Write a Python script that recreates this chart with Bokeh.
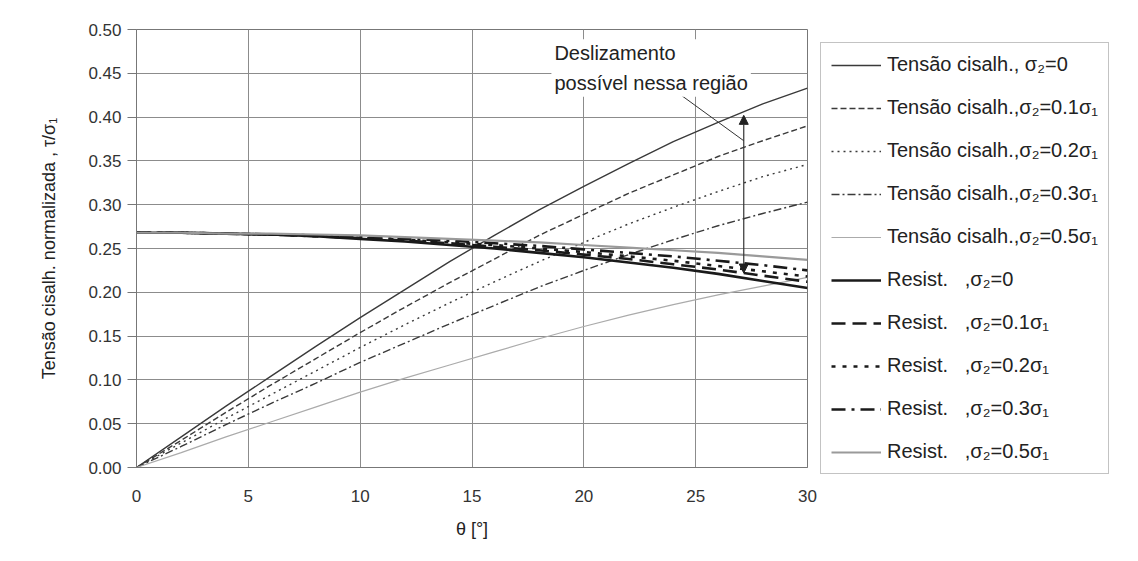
from bokeh.plotting import figure
from bokeh.models import Legend, LegendItem, Label, Arrow, NormalHead, Range1d, FixedTicker, NumeralTickFormatter
from bokeh.embed import file_html
from bokeh.resources import INLINE

# theta in degrees
theta = [0, 2, 4, 6, 8, 10, 12, 14, 16, 18, 20, 22, 24, 26, 28, 30]

# normalized shear stress tau/sigma1
shear_0 = [0, 0.035, 0.070, 0.104, 0.138, 0.171, 0.203, 0.235, 0.265, 0.294, 0.321, 0.347, 0.372, 0.394, 0.415, 0.433]
shear_01 = [0, 0.031, 0.063, 0.094, 0.124, 0.154, 0.183, 0.211, 0.238, 0.265, 0.289, 0.313, 0.334, 0.355, 0.373, 0.390]
shear_02 = [0, 0.028, 0.056, 0.083, 0.110, 0.137, 0.163, 0.188, 0.212, 0.235, 0.257, 0.278, 0.297, 0.315, 0.332, 0.346]
shear_03 = [0, 0.024, 0.049, 0.073, 0.096, 0.120, 0.142, 0.164, 0.185, 0.206, 0.225, 0.243, 0.260, 0.276, 0.290, 0.303]
shear_05 = [0, 0.017, 0.035, 0.052, 0.069, 0.086, 0.102, 0.117, 0.132, 0.147, 0.161, 0.174, 0.186, 0.197, 0.207, 0.217]

# normalized resistance
res_0 = [0.268, 0.268, 0.267, 0.266, 0.264, 0.261, 0.258, 0.254, 0.250, 0.245, 0.240, 0.234, 0.228, 0.221, 0.213, 0.205]
res_01 = [0.268, 0.268, 0.267, 0.266, 0.264, 0.262, 0.259, 0.256, 0.252, 0.248, 0.243, 0.238, 0.232, 0.226, 0.219, 0.212]
res_02 = [0.268, 0.268, 0.267, 0.266, 0.264, 0.262, 0.260, 0.257, 0.254, 0.250, 0.246, 0.241, 0.236, 0.230, 0.224, 0.218]
res_03 = [0.268, 0.268, 0.267, 0.266, 0.265, 0.263, 0.261, 0.259, 0.256, 0.253, 0.249, 0.245, 0.241, 0.236, 0.231, 0.225]
res_05 = [0.268, 0.268, 0.267, 0.267, 0.266, 0.265, 0.263, 0.261, 0.259, 0.257, 0.254, 0.251, 0.248, 0.245, 0.241, 0.237]

labels = [
    "Tensão cisalh., σ₂=0",
    "Tensão cisalh.,σ₂=0.1σ₁",
    "Tensão cisalh.,σ₂=0.2σ₁",
    "Tensão cisalh.,σ₂=0.3σ₁",
    "Tensão cisalh.,σ₂=0.5σ₁",
    "Resist.   ,σ₂=0",
    "Resist.   ,σ₂=0.1σ₁",
    "Resist.   ,σ₂=0.2σ₁",
    "Resist.   ,σ₂=0.3σ₁",
    "Resist.   ,σ₂=0.5σ₁",
]

x_ticks = [0, 5, 10, 15, 20, 25, 30]
y_ticks = [0.0, 0.05, 0.10, 0.15, 0.20, 0.25, 0.30, 0.35, 0.40, 0.45, 0.50]

annot_text = "Deslizamento\npossível nessa região"
annot_pos = (18.55, 0.489)
arrow_x = 27.15
arrow_y = (0.222, 0.402)
leader_x = (24.35, 27.15)
leader_y = (0.425, 0.373)

FONT = "Liberation Sans"

p = figure(frame_width=671, frame_height=438, output_backend="svg", toolbar_location=None,
           x_range=Range1d(0, 30), y_range=Range1d(0, 0.5),
           min_border_left=136, min_border_top=29, min_border_bottom=10, min_border_right=4,
           background_fill_color="white", border_fill_color="white")
p.outline_line_color = "#777777"
p.outline_line_width = 1

for ax in (p.xaxis, p.yaxis):
    ax.axis_line_color = "#777777"
    ax.major_tick_line_color = "#777777"
    ax.minor_tick_line_color = None
    ax.major_label_text_font = FONT
    ax.major_label_text_font_size = "17px"
    ax.major_label_text_color = "#333333"
    ax.axis_label_text_font = FONT
    ax.axis_label_text_font_size = "18px"
    ax.axis_label_text_color = "#222222"
    ax.axis_label_text_font_style = "normal"

p.xaxis.ticker = FixedTicker(ticks=x_ticks)
p.yaxis.ticker = FixedTicker(ticks=y_ticks)
p.yaxis.formatter = NumeralTickFormatter(format="0.00")
p.xaxis.major_tick_out = 0
p.xaxis.major_tick_in = 0
p.xaxis.major_label_standoff = 22
p.xaxis.axis_label = "θ [°]"
p.xaxis.axis_label_standoff = 14
p.yaxis.major_tick_out = 9
p.yaxis.major_tick_in = 0
p.yaxis.major_label_standoff = 6
p.yaxis.axis_label = "Tensão cisalh. normalizada , τ/σ₁"
p.yaxis.axis_label_standoff = 26

p.grid.grid_line_color = "#8c8c8c"
p.grid.grid_line_width = 1

styles = [
    (shear_0, "#3a3a3a", 1.4, "solid"),
    (shear_01, "#3a3a3a", 1.4, "6 3"),
    (shear_02, "#3a3a3a", 1.4, "2 4"),
    (shear_03, "#3a3a3a", 1.4, "8 3 2 3"),
    (shear_05, "#ababab", 1.2, "solid"),
    (res_0, "#1a1a1a", 2.6, "solid"),
    (res_01, "#1a1a1a", 2.6, "14 7"),
    (res_02, "#1a1a1a", 2.6, "4 7"),
    (res_03, "#1a1a1a", 2.6, "14 6 3 6"),
    (res_05, "#9a9a9a", 2.2, "solid"),
]

items = []
for (ys, col, w, dash), lab in zip(styles, labels):
    r = p.line(theta, ys, line_color=col, line_width=w, line_dash=dash)
    items.append(LegendItem(label=lab, renderers=[r]))

legend = Legend(items=items, location="top_left")
legend.label_text_font = FONT
legend.label_text_font_size = "20px"
legend.label_text_color = "#222222"
legend.glyph_width = 50
legend.glyph_height = 20
legend.label_height = 20
legend.spacing = 20
legend.padding = 10
legend.margin = 13
legend.label_standoff = 6
legend.border_line_color = "#888888"
legend.border_line_width = 1
legend.background_fill_color = "white"
p.add_layout(legend, "right")

# leader line
p.add_layout(Arrow(end=None, x_start=leader_x[0], y_start=leader_y[0], x_end=leader_x[1], y_end=leader_y[1],
                   line_color="#333333", line_width=1))
# double arrow
p.add_layout(Arrow(start=NormalHead(size=9, fill_color="#222222", line_color="#222222"),
                   end=NormalHead(size=9, fill_color="#222222", line_color="#222222"),
                   x_start=arrow_x, y_start=arrow_y[0], x_end=arrow_x, y_end=arrow_y[1],
                   line_color="#333333", line_width=1.2))

lbl = Label(x=annot_pos[0], y=annot_pos[1], text=annot_text, text_baseline="top", text_align="left",
            text_font=FONT, text_font_size="20px", text_color="#222222", text_line_height=1.35,
            background_fill_color="white", padding=3)
p.add_layout(lbl)

open("out.html", "w").write(file_html(p, INLINE))
